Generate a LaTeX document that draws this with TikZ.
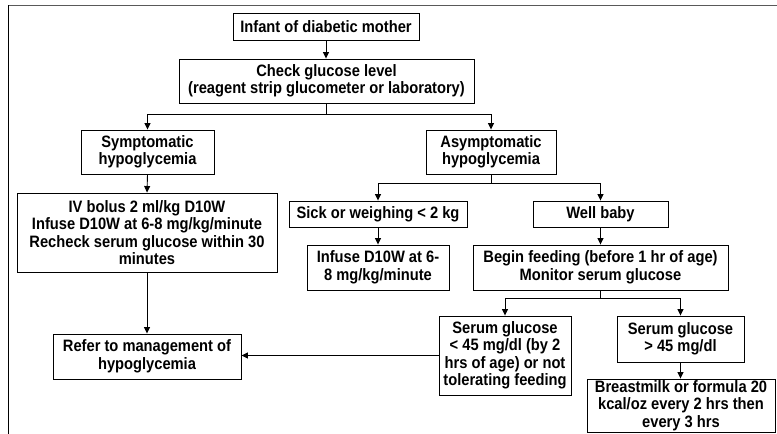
\documentclass[tikz,border=0pt]{standalone}
\usepackage{fontspec}
\newfontfamily\diagfont{Liberation Sans}[FakeStretch=0.89]
\usetikzlibrary{arrows.meta}
\begin{document}
\begin{tikzpicture}[x=1pt,y=1pt,
  box/.style={draw=black, line width=0.9pt, inner sep=0pt, align=center,
    font=\diagfont\bfseries\fontsize{16.5}{17.5}\selectfont},
  arr/.style={draw=black, line width=0.9pt, -{Triangle[width=6pt,length=6.5pt]}},
  link/.style={draw=black, line width=0.9pt}]
\useasboundingbox (0,0) rectangle (777,-434);

% page frame: top rule and left rule
\draw[gray!70!black, line width=1.8pt] (8.3,-5.5) -- (777,-5.5);
\draw[black, line width=1.5pt] (8.3,-5) -- (8.3,-434);

% boxes
\node[box, minimum width=186pt, minimum height=27pt] (mother) at (326,-26.5) {Infant of diabetic mother};
\node[box, minimum width=295pt, minimum height=44pt] (check) at (326.5,-81) {Check glucose level\\(reagent strip glucometer or laboratory)};
\node[box, minimum width=133pt, minimum height=44pt] (symp) at (147.5,-152) {Symptomatic\\hypoglycemia};
\node[box, minimum width=260pt, minimum height=79pt] (iv) at (147,-232.5) {IV bolus 2 ml/kg D10W\\Infuse D10W at 6-8 mg/kg/minute\\Recheck serum glucose within 30\\minutes};
\node[box, minimum width=188pt, minimum height=45pt] (refer) at (147,-356.5) {Refer to management of\\hypoglycemia};
\node[box, minimum width=130pt, minimum height=44pt] (asymp) at (491,-152) {Asymptomatic\\hypoglycemia};
\node[box, minimum width=178pt, minimum height=26pt] (sick) at (378,-214) {Sick or weighing < 2 kg};
\node[box, minimum width=142pt, minimum height=45pt] (infuse) at (378,-267.5) {Infuse D10W at 6-\\8 mg/kg/minute};
\node[box, minimum width=135pt, minimum height=26pt] (well) at (600.5,-214) {Well baby};
\node[box, minimum width=255pt, minimum height=45pt] (begin) at (600.5,-267.5) {Begin feeding (before 1 hr of age)\\Monitor serum glucose};
\node[box, minimum width=132pt, minimum height=79pt] (low) at (505,-355.5) {Serum glucose\\< 45 mg/dl (by 2\\hrs of age) or not\\tolerating feeding};
\node[box, minimum width=127pt, minimum height=46pt] (high) at (680.5,-339) {Serum glucose\\> 45 mg/dl};
\node[box, minimum width=188pt, minimum height=53pt] (feed) at (681,-405.5) {Breastmilk or formula 20\\kcal/oz every 2 hrs then\\every 3 hrs};

% connectors
\draw[arr] (mother.south) -- (mother.south |- check.north);
\draw[link] (check.south) -- ++(0,-11) coordinate (splitA);
\draw[arr] (splitA) -| (symp.north);
\draw[arr] (splitA) -| (asymp.north);
\draw[arr] (symp.south) -- (iv.north);
\draw[arr] (iv.south) -- (refer.north);
\draw[link] (asymp.south) -- ++(0,-9) coordinate (splitB);
\draw[arr] (splitB) -| (sick.north);
\draw[arr] (splitB) -| (well.north);
\draw[arr] (sick.south) -- (infuse.north);
\draw[arr] (well.south) -- (begin.north);
\draw[link] (begin.south) -- ++(0,-8) coordinate (splitC);
\draw[arr] (splitC) -| (low.north);
\draw[arr] (splitC) -| (high.north);
\draw[arr] (high.south) -- (high.south |- feed.north);
\draw[arr] (low.west) -- (low.west -| refer.east);
\end{tikzpicture}
\end{document}
